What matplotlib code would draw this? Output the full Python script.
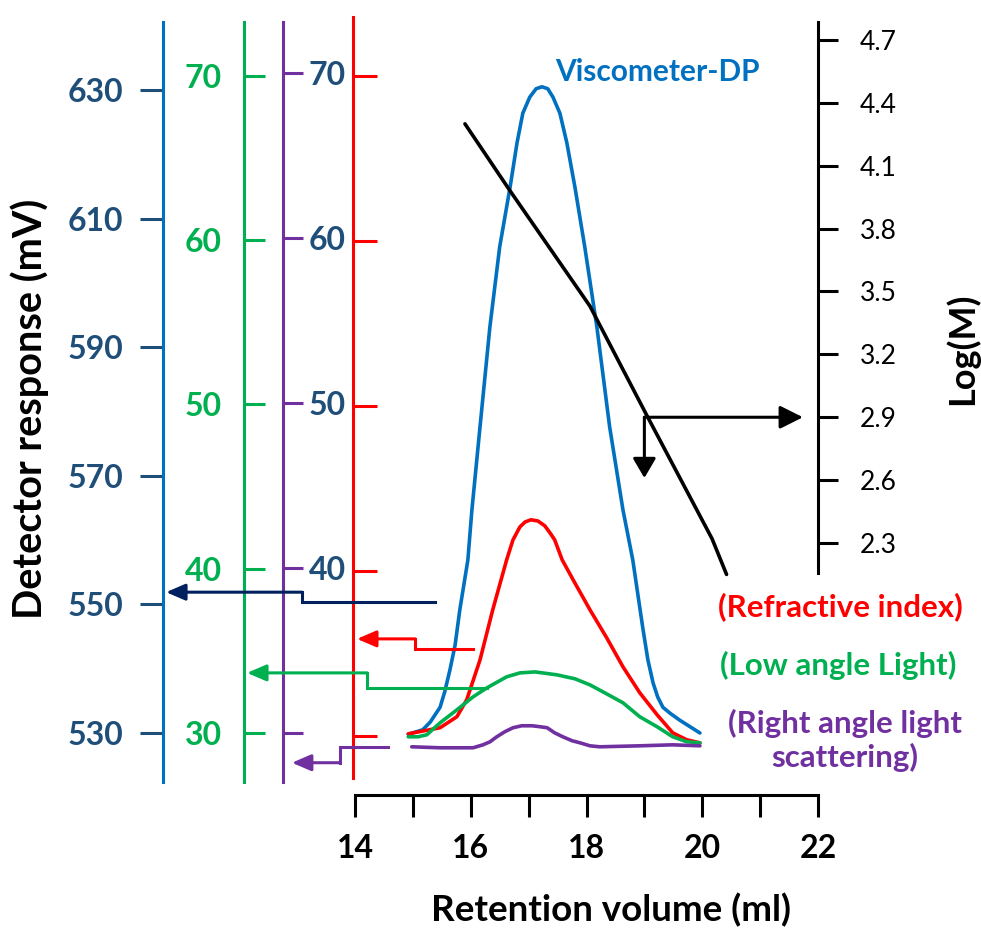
import matplotlib
matplotlib.use("Agg")
import matplotlib.pyplot as plt

plt.rcParams['font.family'] = ['Lato', 'DejaVu Sans']

# ---------------- data ----------------
vol_ticks = [14, 16, 18, 20, 22]
vol_minor = [15, 17, 19, 21]
mv_ticks = [530, 550, 570, 590, 610, 630]
sig_ticks = [30, 40, 50, 60, 70]
purple_labels = ['', '40', '50', '60', '70']
logm_ticks = [2.3, 2.6, 2.9, 3.2, 3.5, 3.8, 4.1, 4.4, 4.7]

# Viscometer-DP (mV)
visc_v = [14.92, 15.17, 15.30, 15.47, 15.55, 15.64, 15.73, 15.81, 15.95, 16.02, 16.16,
          16.33, 16.50, 16.68, 16.80, 16.90, 17.02, 17.13, 17.23, 17.33, 17.42, 17.54,
          17.66, 17.80, 17.97, 18.18, 18.40, 18.63, 18.80, 18.97, 19.06, 19.15, 19.23,
          19.32, 19.44, 19.61, 19.96]
visc_mv = [529.8, 530.5, 531.7, 534.0, 536.4, 539.8, 543.7, 549.1, 556.9, 564.7, 577.6,
           593.1, 605.6, 614.9, 621.8, 626.4, 628.9, 630.2, 630.5, 630.2, 628.9, 626.4,
           621.8, 614.9, 605.6, 593.1, 577.6, 564.7, 556.9, 546.5, 541.4, 537.8, 535.6,
           534.0, 533.1, 532.0, 530.0]

# Refractive index (signal units)
ri_v = [14.92, 15.47, 15.76, 15.93, 16.16, 16.38, 16.62, 16.73, 16.85, 16.94, 17.04,
        17.16, 17.28, 17.37, 17.45, 17.58, 17.77, 18.06, 18.35, 18.63, 18.92, 19.22,
        19.49, 19.73, 19.96]
ri_s = [29.95, 30.32, 30.99, 32.02, 34.45, 37.50, 40.54, 41.76, 42.55, 42.85, 42.98,
        42.91, 42.61, 42.18, 41.76, 40.54, 39.32, 37.50, 35.79, 34.03, 32.45, 31.11,
        30.01, 29.59, 29.40]

# Low angle light scattering (signal units)
lals_v = [14.92, 15.09, 15.24, 15.47, 15.76, 16.04, 16.28, 16.62, 16.85, 17.11, 17.49,
          17.80, 18.06, 18.35, 18.63, 18.92, 19.22, 19.49, 19.73, 19.96]
lals_s = [29.77, 29.77, 29.89, 30.62, 31.41, 32.20, 32.75, 33.42, 33.66, 33.72, 33.54,
          33.30, 32.93, 32.38, 31.84, 30.99, 30.38, 29.77, 29.47, 29.40]

# Right angle light scattering (signal units)
rals_v = [14.98, 15.47, 16.04, 16.21, 16.33, 16.45, 16.59, 16.73, 16.88, 17.06, 17.20,
          17.32, 17.45, 17.59, 17.75, 17.89, 18.06, 18.23, 18.92, 19.49, 19.96]
rals_s = [29.16, 29.10, 29.10, 29.28, 29.46, 29.77, 30.08, 30.32, 30.44, 30.44, 30.38,
          30.32, 30.01, 29.77, 29.53, 29.40, 29.22, 29.16, 29.22, 29.28, 29.22]

# Calibration curve Log(M) vs retention volume
cal_v = [15.90, 16.68, 18.06, 19.04, 20.17, 20.42]
cal_logm = [4.30, 3.98, 3.43, 2.91, 2.32, 2.15]
cal_pick_v = 19.0
cal_pick_logm = 2.9
cal_arrow_to_v = 21.74
cal_arrow_to_logm = 2.61

# indicator arrows (start -> step -> tip)
navy_arr_v = [15.38, 13.085, 13.085, 10.736]
navy_arr_mv = [550.4, 550.4, 551.9, 551.9]
red_arr_v = [16.04, 15.04, 15.04, 14.035]
red_arr_s = [35.12, 35.12, 35.73, 35.73]
green_arr_v = [16.28, 14.21, 14.21, 12.135]
green_arr_s = [32.75, 32.75, 33.66, 33.66]
purple_arr_v = [14.57, 13.74, 13.74, 12.91]
purple_arr_s = [29.16, 29.16, 28.19, 28.19]

# ---------------- style ----------------
BLUE = '#0070C0'
NAVY = '#1F4E79'
DNAVY = '#002060'
GREEN = '#00B050'
PURPLE = '#7030A0'
RED = '#FF0000'
BLACK = '#000000'

W, H = 981, 932
PT = 72 / 100.0
LW = 2.2
CLW = 2.6
TICKFS = 23

fig = plt.figure(figsize=(W / 100, H / 100), dpi=100)


def rect(l, t, r, b):
    return [l / W, 1 - b / H, max(r - l, 1) / W, (b - t) / H]


def lim(p_top, p_bot, p1, v1, p2, v2):
    k = (v2 - v1) / (p2 - p1)
    return (v1 + (p_bot - p1) * k, v1 + (p_top - p1) * k)


def vaxis(x, t, b, refs, ticks, labels, side, direction, length_px, lcolor,
          tcolor, labelcolor, pad_px, fontsize, weight):
    if side == 'left':
        a = fig.add_axes(rect(x, t, x + 1, b))
    else:
        a = fig.add_axes(rect(x - 1, t, x, b))
    a.set_ylim(*lim(t, b, *refs))
    a.patch.set_visible(False)
    for s in a.spines:
        a.spines[s].set_visible(s == side)
    a.spines[side].set_color(lcolor)
    a.spines[side].set_linewidth(LW)
    a.set_xticks([])
    a.yaxis.set_ticks_position(side)
    a.set_yticks(ticks)
    a.set_yticklabels(labels)
    a.tick_params(axis='y', direction=direction, length=length_px * PT, width=LW,
                  color=tcolor, labelcolor=labelcolor, pad=pad_px * PT,
                  labelsize=fontsize)
    for tl in a.get_yticklabels():
        tl.set_fontweight(weight)
    return a


# left vertical axes
vaxis(163, 22, 782, (90, 630, 733, 530), mv_ticks, [str(v) for v in mv_ticks],
      'left', 'out', 23, BLUE, NAVY, NAVY, 17, TICKFS, 'bold')
vaxis(244, 22, 782, (76, 70, 733, 30), sig_ticks, [str(v) for v in sig_ticks],
      'left', 'in', 21, GREEN, GREEN, GREEN, 22, TICKFS, 'bold')
vaxis(283, 22, 782, (73, 70, 733, 30), sig_ticks, purple_labels,
      'right', 'out', 20, PURPLE, PURPLE, NAVY, 6, TICKFS, 'bold')
vaxis(353, 17, 778, (76, 70, 736, 30), sig_ticks, ['' for _ in sig_ticks],
      'right', 'out', 24, RED, RED, RED, 5, TICKFS, 'bold')

# main axes (retention volume vs mV)
ax = fig.add_axes(rect(355, 22, 818, 795))
ax.set_xlim(14, 22)
ax.set_ylim(*lim(22, 795, 90, 630, 733, 530))
ax.patch.set_visible(False)
for s in ['left', 'right', 'top']:
    ax.spines[s].set_visible(False)
ax.spines['bottom'].set_linewidth(LW)
ax.spines['bottom'].set_color(BLACK)
ax.set_yticks([])
ax.set_xticks(vol_ticks)
ax.set_xticks(vol_minor, minor=True)
ax.tick_params(axis='x', which='both', direction='out', length=22 * PT, width=LW,
               color=BLACK, labelsize=TICKFS, pad=12)
for tl in ax.get_xticklabels():
    tl.set_fontweight('bold')

# signal axes (shares volume axis)
ax_sig = ax.twinx()
ax_sig.set_ylim(*lim(22, 795, 76, 70, 733, 30))
ax_sig.patch.set_visible(False)
for s in ax_sig.spines:
    ax_sig.spines[s].set_visible(False)
ax_sig.set_yticks([])

# Log(M) axes
ax_log = fig.add_axes(rect(355, 22, 818, 573))
ax_log.set_xlim(14, 22)
ax_log.set_ylim(*lim(22, 573, 40, 4.7, 543, 2.3))
ax_log.patch.set_visible(False)
for s in ax_log.spines:
    ax_log.spines[s].set_visible(s == 'right')
ax_log.spines['right'].set_linewidth(LW)
ax_log.set_xticks([])
ax_log.yaxis.set_ticks_position('right')
ax_log.set_yticks(logm_ticks)
ax_log.set_yticklabels([f'{v:.1f}' for v in logm_ticks])
ax_log.tick_params(axis='y', direction='out', length=20 * PT, width=LW, color=BLACK,
                   labelsize=19, pad=22 * PT)

# curves
ckw = dict(lw=CLW, clip_on=False, solid_capstyle='round', solid_joinstyle='round')
ax.plot(visc_v, visc_mv, color=BLUE, **ckw)
ax_sig.plot(ri_v, ri_s, color=RED, **ckw)
ax_sig.plot(lals_v, lals_s, color=GREEN, **ckw)
ax_sig.plot(rals_v, rals_s, color=PURPLE, **ckw)

# calibration curve + arrows
ax_log.plot(cal_v, cal_logm, color=BLACK, **ckw)


def arrow(a, x0, y0, x1, y1, color, hl=0.58, hw=0.25, ms=20):
    a.annotate('', xy=(x1, y1), xytext=(x0, y0), annotation_clip=False,
               arrowprops=dict(arrowstyle=f'-|>,head_length={hl},head_width={hw}',
                               color=color, lw=LW, mutation_scale=ms,
                               shrinkA=0, shrinkB=0))


arrow(ax_log, cal_pick_v, cal_pick_logm, cal_arrow_to_v, cal_pick_logm, BLACK, 0.7, 0.35)
arrow(ax_log, cal_pick_v, cal_pick_logm, cal_pick_v, cal_arrow_to_logm, BLACK, 0.6, 0.35)


def step_arrow(a, xs, ys, color):
    a.plot(xs[:-1], ys[:-1], color=color, lw=LW, clip_on=False,
           solid_joinstyle='miter')
    arrow(a, xs[-2], ys[-2], xs[-1], ys[-1], color)


step_arrow(ax, navy_arr_v, navy_arr_mv, DNAVY)
step_arrow(ax_sig, red_arr_v, red_arr_s, RED)
step_arrow(ax_sig, green_arr_v, green_arr_s, GREEN)
step_arrow(ax_sig, purple_arr_v, purple_arr_s, PURPLE)

# texts
fig.text(657 / W, 1 - 72 / H, 'Viscometer-DP', color=BLUE, fontsize=21.5,
         fontweight='bold', ha='center', va='center')
fig.text(840 / W, 1 - 607 / H, '(Refractive index)', color=RED, fontsize=22.5,
         fontweight='bold', ha='center', va='center')
fig.text(838 / W, 1 - 665 / H, '(Low angle Light)', color=GREEN, fontsize=22.5,
         fontweight='bold', ha='center', va='center')
fig.text(845 / W, 1 - 740 / H, '(Right angle light\nscattering)', color=PURPLE,
         fontsize=22.5, fontweight='bold', ha='center', va='center', linespacing=1.2)

fig.text(30 / W, 1 - 409 / H, 'Detector response (mV)', rotation=90, fontsize=28.5,
         fontweight='bold', ha='center', va='center')
fig.text(962 / W, 1 - 349 / H, 'Log(M)', rotation=90, fontsize=26,
         fontweight='bold', ha='center', va='center')
fig.text(611 / W, 1 - 910 / H, 'Retention volume (ml)', fontsize=26.5,
         fontweight='bold', ha='center', va='center')

fig.savefig('out.png', dpi=100)
